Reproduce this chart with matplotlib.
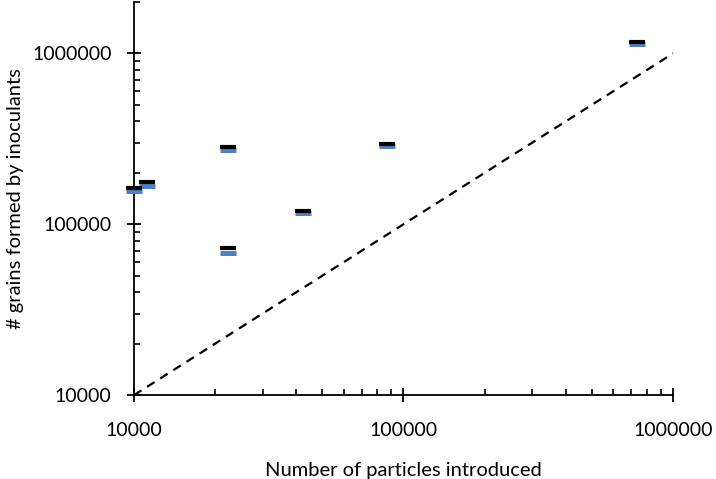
import numpy as np
import matplotlib
matplotlib.use("Agg")
import matplotlib.pyplot as plt
from matplotlib.ticker import LogLocator, NullFormatter, FixedLocator

plt.rcParams['font.family'] = ['Lato', 'DejaVu Sans']

# particles introduced vs grains formed by inoculants
particles = [10000, 11200, 22300, 22300, 42400, 86800, 735000]
grains_blue = [156000, 167000, 271000, 67600, 116000, 286000, 1140000]
grains_black = [164000, 176000, 282000, 72400, 119000, 294000, 1170000]

parity_x = [1e4, 1e6]

fig = plt.figure(figsize=(7.16, 4.79), dpi=100)
ax = fig.add_axes([0.187, 0.175, 0.753, 0.821])

ax.plot(parity_x, parity_x, color='black', linestyle=(0, (4, 3)), linewidth=1.6, zorder=1)

ax.plot(particles, grains_blue, linestyle='none', marker='_', markersize=11,
        markeredgewidth=3.6, color='#4f7fc4', zorder=4, clip_on=False)
ax.plot(particles, grains_black, linestyle='none', marker='_', markersize=11,
        markeredgewidth=3.0, color='black', zorder=5, clip_on=False)

ax.set_xscale('log')
ax.set_yscale('log')
ax.set_xlim(1e4, 1e6)
ax.set_ylim(1e4, 2e6)

ax.xaxis.set_major_locator(FixedLocator([1e4, 1e5, 1e6]))
ax.yaxis.set_major_locator(FixedLocator([1e4, 1e5, 1e6]))
ax.xaxis.set_minor_locator(LogLocator(base=10, subs=np.arange(2, 10), numticks=20))
ax.yaxis.set_minor_locator(LogLocator(base=10, subs=np.arange(2, 10), numticks=20))
ax.xaxis.set_minor_formatter(NullFormatter())
ax.yaxis.set_minor_formatter(NullFormatter())
ax.set_xticklabels(['10000', '100000', '1000000'])
ax.set_yticklabels(['10000', '100000', '1000000'])

for s in ['top', 'right']:
    ax.spines[s].set_visible(False)
for s in ['left', 'bottom']:
    ax.spines[s].set_linewidth(1.3)

ax.tick_params(which='major', direction='inout', length=10, width=1.3,
               labelsize=14, pad=11)
ax.tick_params(axis='x', which='major', pad=14)
ax.tick_params(which='minor', direction='in', length=4, width=1.2)

ax.set_xlabel('Number of particles introduced', fontsize=14.5, labelpad=17)
ax.set_ylabel('# grains formed by inoculants', fontsize=14.5, labelpad=6)

fig.savefig('out.png', dpi=100)
